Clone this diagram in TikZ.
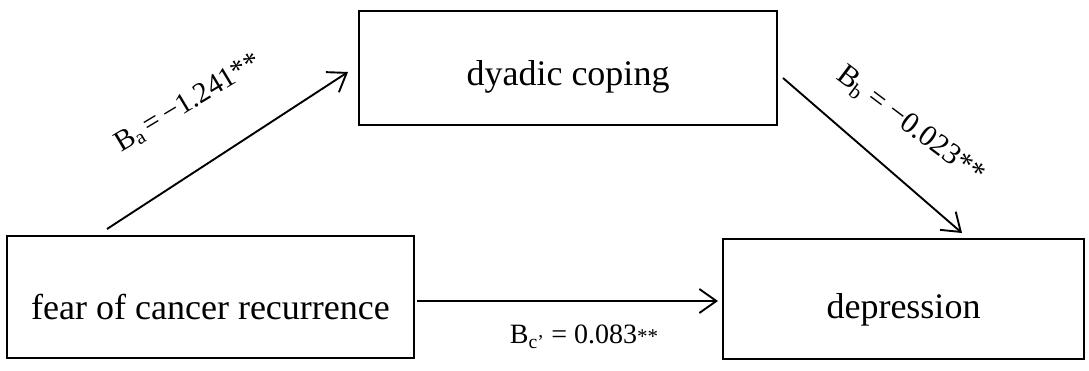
\documentclass[tikz,border=0pt]{standalone}
\usepackage{fontspec}
\setmainfont{Liberation Serif}
\usetikzlibrary{arrows.meta}
\tikzset{
  box/.style={draw=black, line width=2.8pt, inner sep=0pt, outer sep=0pt, text depth=0pt, font=\fontsize{36}{40}\selectfont},
  conn/.style={line width=1.9pt, -{Straight Barb[length=17pt,width=24pt,line width=1.9pt]}},
  lab/.style={inner sep=0pt}
}
\begin{document}
\begin{tikzpicture}[x=1pt,y=-1pt]
\useasboundingbox (0,0) rectangle (1089,370);
\node[box, minimum width=418pt, minimum height=114pt, text height=34pt] (dyadic) at (568,68) {dyadic coping};
\node[box, minimum width=407pt, minimum height=122pt, text height=44pt] (fear) at (210.5,297) {fear of cancer recurrence};
\node[box, minimum width=361pt, minimum height=120pt, text height=38pt] (dep) at (903.5,299) {depression};
\draw[conn] ([shift={(100,-7)}]fear.north west) -- ([shift={(-11,4)}]dyadic.west);
\draw[conn] ([shift={(6,10)}]dyadic.east) -- ([shift={(58.5,-6)}]dep.north);
\draw[conn] ([shift={(3,4)}]fear.east) -- ([shift={(-5,2)}]dep.west);
\node[lab, rotate=31, font=\fontsize{29}{30}\selectfont] (la) at (188,103) {B\textsubscript{a}\,=\,−1.241**};
\node[lab, rotate=-37, font=\fontsize{30}{30}\selectfont] (lb) at (910,126) {B\textsubscript{b} = −0.023**};
\node[lab, font=\fontsize{28}{28}\selectfont] (lc) at (584,337) {B\textsubscript{c’} = 0.083{\fontsize{21}{21}\selectfont**}};
\end{tikzpicture}
\end{document}
